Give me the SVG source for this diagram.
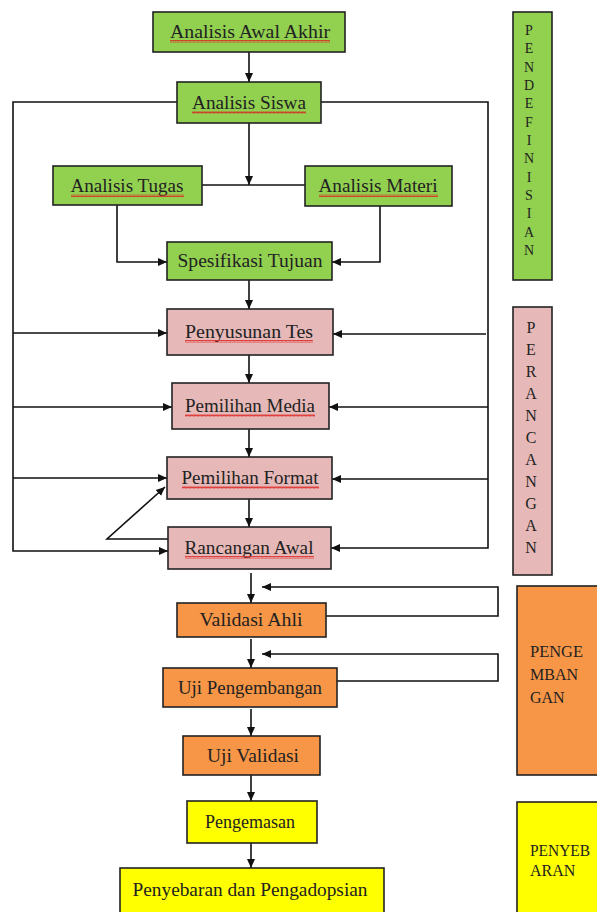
<svg xmlns="http://www.w3.org/2000/svg" width="597" height="912" viewBox="0 0 597 912">
<style>
.bx{stroke:#222;stroke-width:1.6}
.g{fill:#92D050}.p{fill:#E6B9B8}.o{fill:#F79646}.y{fill:#FFFF00}
.t{font-family:"Liberation Serif","Times New Roman",serif;font-size:19px;fill:#222;text-anchor:middle}
.v{font-family:"Liberation Serif","Times New Roman",serif;fill:#222;text-anchor:middle}
.s{font-family:"Liberation Serif","Times New Roman",serif;font-size:16px;fill:#222}
.c{fill:none;stroke:#111;stroke-width:1.6}
.sq{fill:url(#wave)}
</style>
<defs>
<marker id="ah" markerUnits="userSpaceOnUse" markerWidth="10" markerHeight="10" refX="9" refY="5" orient="auto">
<path d="M0,1 L9,5 L0,9 Z" fill="#111"/>
</marker>
<pattern id="wave" patternUnits="userSpaceOnUse" width="4" height="3">
<path d="M0,2.5 L1,0.5 L2,2.5 L3,0.5 L4,2.5" fill="none" stroke="#d22" stroke-width="0.8"/>
</pattern>
</defs>
<rect width="597" height="912" fill="#fff"/>

<g id="connectors">
<path class="c" d="M249 52 V82" marker-end="url(#ah)"/>
<path class="c" d="M249 123 V185" marker-end="url(#ah)"/>
<path class="c" d="M202 185 H305"/>
<path class="c" d="M117 205 V262 H167" marker-end="url(#ah)"/>
<path class="c" d="M380 206 V262 H332" marker-end="url(#ah)"/>
<path class="c" d="M249 280 V309" marker-end="url(#ah)"/>
<path class="c" d="M249 355 V383" marker-end="url(#ah)"/>
<path class="c" d="M249 429 V457" marker-end="url(#ah)"/>
<path class="c" d="M249 499 V527" marker-end="url(#ah)"/>
<path class="c" d="M177 102 H13 V551 H168" marker-end="url(#ah)"/>
<path class="c" d="M13 333 H167" marker-end="url(#ah)"/>
<path class="c" d="M13 407 H172" marker-end="url(#ah)"/>
<path class="c" d="M13 478 H167" marker-end="url(#ah)"/>
<path class="c" d="M321 102 H488 V548 H331" marker-end="url(#ah)"/>
<path class="c" d="M486 334 H333" marker-end="url(#ah)"/>
<path class="c" d="M488 407 H329" marker-end="url(#ah)"/>
<path class="c" d="M488 479 H332" marker-end="url(#ah)"/>
<path class="c" d="M168 539 H107 L165 487" marker-end="url(#ah)"/>
<path class="c" d="M251 573 V603" marker-end="url(#ah)"/>
<path class="c" d="M326 616 H498 V587 H262" marker-end="url(#ah)"/>
<path class="c" d="M251 639 V668" marker-end="url(#ah)"/>
<path class="c" d="M337 681 H498 V654 H262" marker-end="url(#ah)"/>
<path class="c" d="M251 709 V736" marker-end="url(#ah)"/>
<path class="c" d="M251 775 V801" marker-end="url(#ah)"/>
<path class="c" d="M251 843 V868" marker-end="url(#ah)"/>
</g>

<g id="analisis-awal-akhir"><rect class="bx g" x="153" y="12" width="192" height="40"/><text class="t" x="250" y="38" textLength="160" lengthAdjust="spacingAndGlyphs">Analisis Awal Akhir</text><rect class="sq" x="170" y="40" width="160" height="3"/></g>
<g id="analisis-siswa"><rect class="bx g" x="177" y="82" width="144" height="41"/><text class="t" x="249" y="109" textLength="114" lengthAdjust="spacingAndGlyphs">Analisis Siswa</text><rect class="sq" x="192" y="111" width="114" height="3"/></g>
<g id="analisis-tugas"><rect class="bx g" x="53" y="166" width="149" height="39"/><text class="t" x="127" y="192" textLength="113" lengthAdjust="spacingAndGlyphs">Analisis Tugas</text><rect class="sq" x="71" y="194" width="113" height="3"/></g>
<g id="analisis-materi"><rect class="bx g" x="305" y="166" width="147" height="40"/><text class="t" x="378" y="192" textLength="119" lengthAdjust="spacingAndGlyphs">Analisis Materi</text><rect class="sq" x="319" y="194" width="119" height="3"/></g>
<g id="spesifikasi-tujuan"><rect class="bx g" x="167" y="242" width="165" height="38"/><text class="t" x="250" y="267" textLength="145" lengthAdjust="spacingAndGlyphs">Spesifikasi Tujuan</text></g>
<g id="penyusunan-tes"><rect class="bx p" x="167" y="309" width="166" height="46"/><text class="t" x="249" y="338" textLength="128" lengthAdjust="spacingAndGlyphs">Penyusunan Tes</text><rect class="sq" x="185" y="340" width="128" height="3"/></g>
<g id="pemilihan-media"><rect class="bx p" x="172" y="383" width="157" height="46"/><text class="t" x="250" y="412" textLength="130" lengthAdjust="spacingAndGlyphs">Pemilihan Media</text><rect class="sq" x="185" y="414" width="130" height="3"/></g>
<g id="pemilihan-format"><rect class="bx p" x="167" y="457" width="165" height="42"/><text class="t" x="250" y="484" textLength="137" lengthAdjust="spacingAndGlyphs">Pemilihan Format</text><rect class="sq" x="182" y="486" width="137" height="3"/></g>
<g id="rancangan-awal"><rect class="bx p" x="168" y="527" width="163" height="42"/><text class="t" x="249" y="554" textLength="129" lengthAdjust="spacingAndGlyphs">Rancangan Awal</text><rect class="sq" x="185" y="556" width="129" height="3"/></g>
<g id="validasi-ahli"><rect class="bx o" x="177" y="603" width="149" height="34"/><text class="t" x="251" y="626" textLength="103" lengthAdjust="spacingAndGlyphs">Validasi Ahli</text></g>
<g id="uji-pengembangan"><rect class="bx o" x="163" y="668" width="174" height="39"/><text class="t" x="250" y="694" textLength="144" lengthAdjust="spacingAndGlyphs">Uji Pengembangan</text></g>
<g id="uji-validasi"><rect class="bx o" x="183" y="736" width="137" height="39"/><text class="t" x="253" y="762" textLength="92" lengthAdjust="spacingAndGlyphs">Uji Validasi</text></g>
<g id="pengemasan"><rect class="bx y" x="187" y="801" width="130" height="42"/><text class="t" x="250" y="828" textLength="90" lengthAdjust="spacingAndGlyphs">Pengemasan</text></g>
<g id="penyebaran"><rect class="bx y" x="120" y="868" width="264" height="60"/><text class="t" x="250" y="896" textLength="235" lengthAdjust="spacingAndGlyphs">Penyebaran dan Pengadopsian</text></g>

<g id="pendefinisian"><rect class="bx g" x="513" y="12" width="39" height="268"/>
<text class="v" font-size="14" x="529">
<tspan x="529" y="35">P</tspan><tspan x="529" y="53">E</tspan><tspan x="529" y="72">N</tspan><tspan x="529" y="90">D</tspan><tspan x="529" y="108">E</tspan><tspan x="529" y="127">F</tspan><tspan x="529" y="145">I</tspan><tspan x="529" y="163">N</tspan><tspan x="529" y="182">I</tspan><tspan x="529" y="200">S</tspan><tspan x="529" y="218">I</tspan><tspan x="529" y="237">A</tspan><tspan x="529" y="255">N</tspan>
</text></g>
<g id="perancangan"><rect class="bx p" x="513" y="307" width="39" height="268"/>
<text class="v" font-size="16" x="531">
<tspan x="531" y="333">P</tspan><tspan x="531" y="355">E</tspan><tspan x="531" y="377">R</tspan><tspan x="531" y="399">A</tspan><tspan x="531" y="421">N</tspan><tspan x="531" y="443">C</tspan><tspan x="531" y="465">A</tspan><tspan x="531" y="487">N</tspan><tspan x="531" y="509">G</tspan><tspan x="531" y="531">A</tspan><tspan x="531" y="553">N</tspan>
</text></g>
<g id="pengembangan"><rect class="bx o" x="517" y="586" width="90" height="189"/>
<text class="s"><tspan x="530" y="657" textLength="53" lengthAdjust="spacingAndGlyphs">PENGE</tspan><tspan x="530" y="680">MBAN</tspan><tspan x="530" y="703">GAN</tspan></text></g>
<g id="penyebaran-phase"><rect class="bx y" x="517" y="802" width="90" height="130"/>
<text class="s"><tspan x="530" y="856" textLength="60" lengthAdjust="spacingAndGlyphs">PENYEB</tspan><tspan x="530" y="876">ARAN</tspan></text></g>
</svg>
